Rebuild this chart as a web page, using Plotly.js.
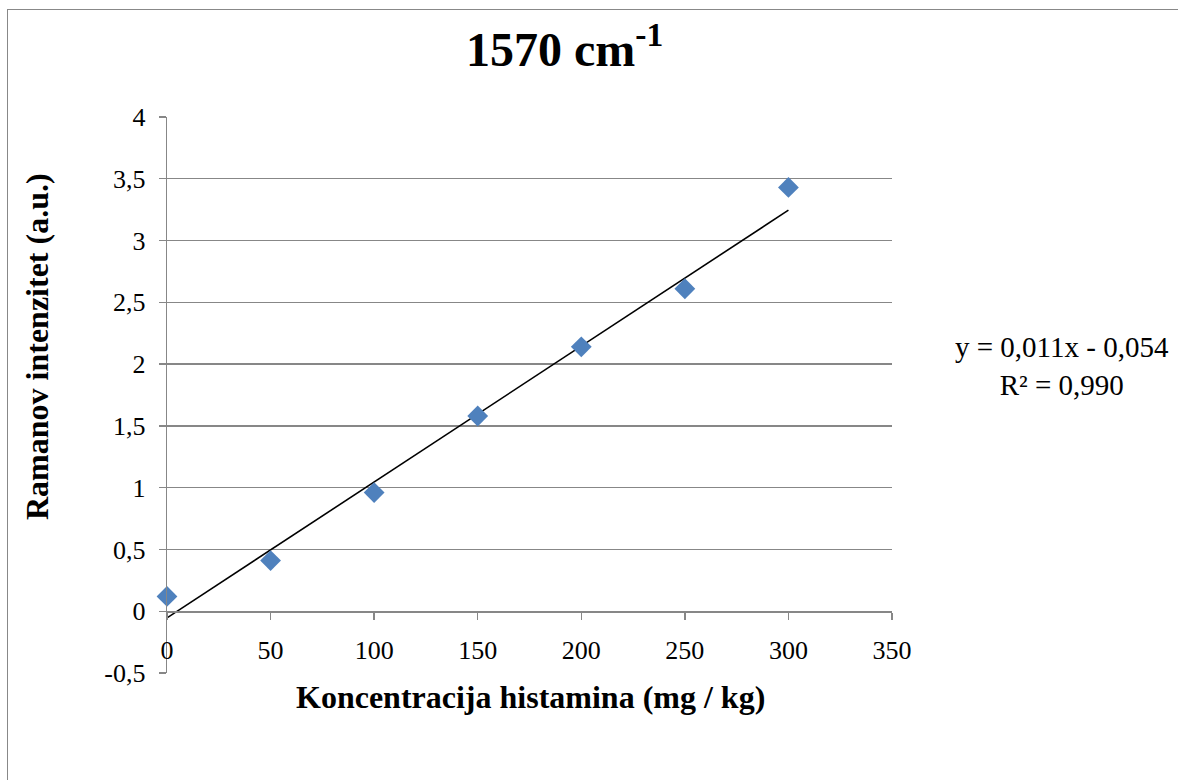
<!DOCTYPE html>
<html>
<head>
<meta charset="utf-8">
<script src="https://cdn.plot.ly/plotly-3.0.1.min.js"></script>
<style>
  html, body { margin: 0; padding: 0; background: #fff; overflow: hidden; }
  #chart { width: 1178px; height: 780px; position: absolute; left: 0; top: 0; }
  #frame { position: absolute; left: 7px; top: 9px; width: 1200px; height: 800px;
           border-left: 1.5px solid #888; border-top: 1.5px solid #888; pointer-events: none; }
</style>
</head>
<body>
<div id="chart"></div>
<div id="frame"></div>
<script>
// Data
const concentration = [0, 50, 100, 150, 200, 250, 300];
const ramanIntensity = [0.12, 0.41, 0.96, 1.58, 2.14, 2.61, 3.43];
// Linear trendline endpoints (y = 0,011x - 0,054)
const trendX = [0, 300];
const trendY = [-0.054, 3.246];
const xTickVals = [0, 50, 100, 150, 200, 250, 300, 350];
const xTickText = ['0', '50', '100', '150', '200', '250', '300', '350'];
const yTickVals = [-0.5, 0, 0.5, 1, 1.5, 2, 2.5, 3, 3.5, 4];
const yTickText = ['-0,5', '0', '0,5', '1', '1,5', '2', '2,5', '3', '3,5', '4'];
const chartTitle = '<b>1570 cm<sup>-1</sup></b>';
const xTitle = '<b>Koncentracija histamina (mg / kg)</b>';
const yTitle = '<b>Ramanov intenzitet (a.u.)</b>';
const equationText = 'y = 0,011x - 0,054<br>R² = 0,990';

const yMin = -0.5, yMax = 4;
const font = 'Liberation Serif, Times New Roman, serif';
const gridColor = '#878787';

const traces = [
  {
    x: trendX, y: trendY, type: 'scatter', mode: 'lines',
    line: { color: '#000', width: 1.6 },
    showlegend: false, hoverinfo: 'skip'
  },
  {
    x: concentration, y: ramanIntensity, type: 'scatter', mode: 'markers',
    marker: { symbol: 'diamond', size: 16, color: '#4F81BD' },
    cliponaxis: false,
    showlegend: false, hoverinfo: 'x+y'
  }
];

const layout = {
  width: 1178, height: 780,
  margin: { l: 167, r: 286, t: 117, b: 107 },
  paper_bgcolor: '#fff', plot_bgcolor: '#fff',
  font: { family: font, color: '#000', size: 26 },
  showlegend: false,
  xaxis: {
    range: [0, 350], tickvals: xTickVals, ticktext: xTickText,
    anchor: 'free', position: (0 - yMin) / (yMax - yMin),
    showgrid: false, zeroline: false,
    showline: true, linecolor: gridColor, linewidth: 1.3,
    ticks: 'outside', ticklen: 7, tickcolor: gridColor, tickwidth: 1.3,
    tickfont: { family: font, size: 26, color: '#000' },
    ticklabelstandoff: 8
  },
  yaxis: {
    range: [yMin, yMax], tickvals: yTickVals, ticktext: yTickText,
    showgrid: true, gridcolor: gridColor, gridwidth: 1.3,
    zeroline: false,
    showline: true, linecolor: gridColor, linewidth: 1.3,
    ticks: 'outside', ticklen: 7, tickcolor: gridColor, tickwidth: 1.3,
    tickfont: { family: font, size: 26, color: '#000' },
    ticklabelstandoff: 8
  },
  annotations: [
    {
      text: chartTitle, xref: 'paper', yref: 'paper',
      x: (564 - 167) / 725, y: (673 - 46) / 556, xanchor: 'center', yanchor: 'middle',
      showarrow: false, font: { family: font, size: 48, color: '#000' }
    },
    {
      text: xTitle, xref: 'paper', yref: 'paper',
      x: (530 - 167) / 725, y: (673 - 697) / 556, xanchor: 'center', yanchor: 'middle',
      showarrow: false, font: { family: font, size: 32, color: '#000' }
    },
    {
      text: yTitle, xref: 'paper', yref: 'paper', textangle: -90,
      x: (37 - 167) / 725, y: (673 - 347) / 556, xanchor: 'center', yanchor: 'middle',
      showarrow: false, font: { family: font, size: 32, color: '#000' }
    },
    {
      text: equationText, xref: 'paper', yref: 'paper', align: 'center',
      x: (1062 - 167) / 725, y: (673 - 366) / 556, xanchor: 'center', yanchor: 'middle',
      showarrow: false, font: { family: font, size: 29, color: '#000' }
    }
  ]
};

Plotly.newPlot('chart', traces, layout, { displayModeBar: false, staticPlot: true });
</script>
</body>
</html>
